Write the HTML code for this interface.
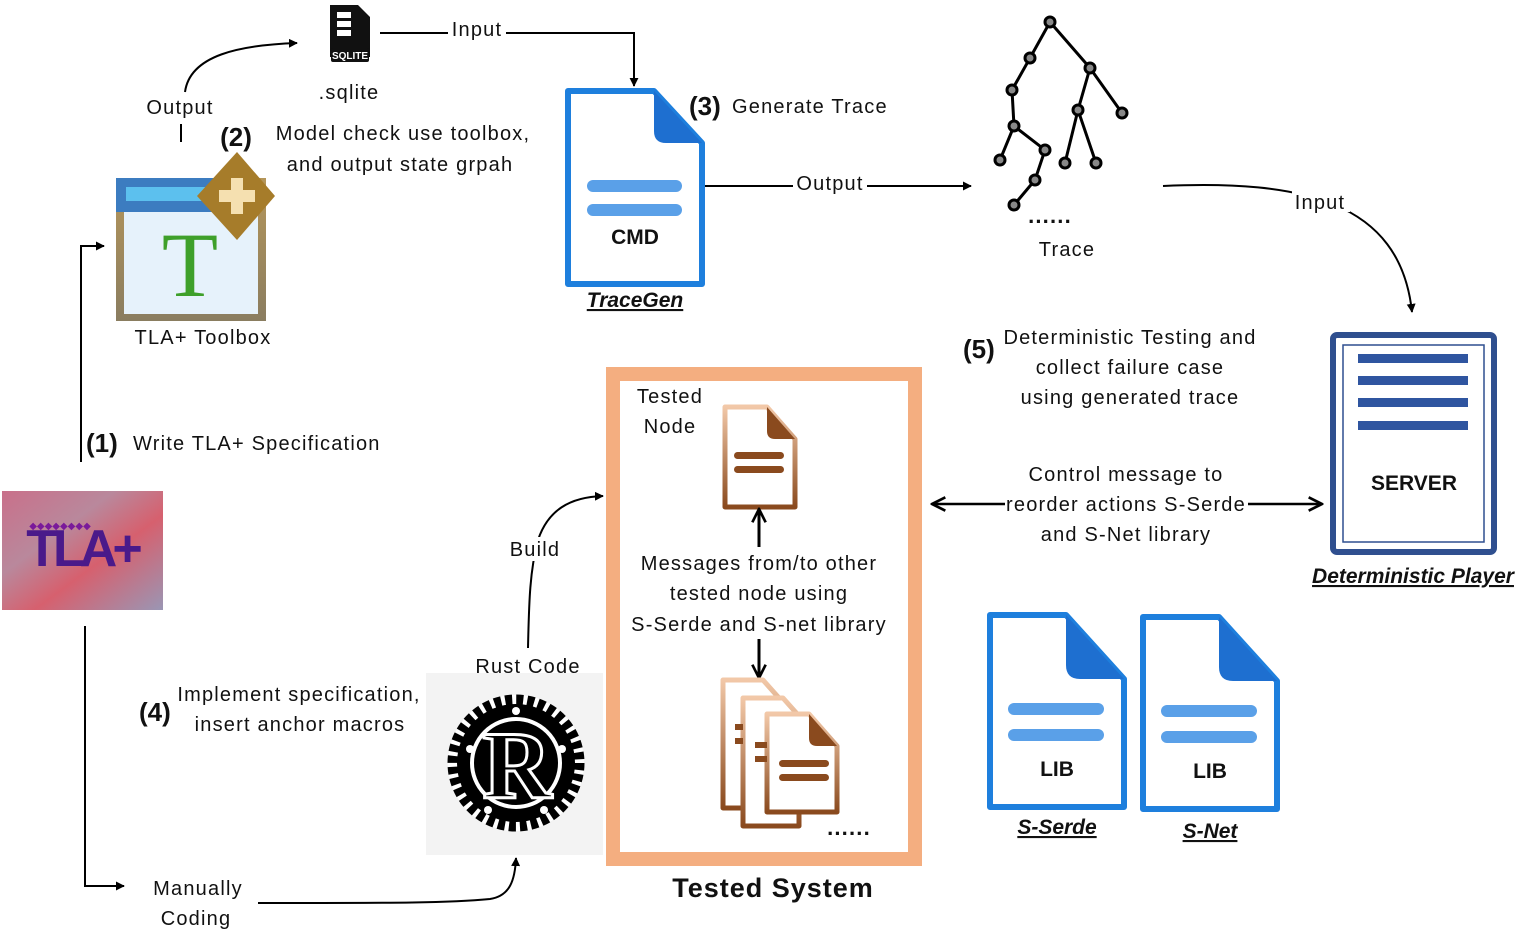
<!DOCTYPE html>
<html><head><meta charset="utf-8"><style>
html,body{margin:0;padding:0;background:#fff}
svg text{font-family:"Liberation Sans",sans-serif;fill:#111;letter-spacing:1.2px}
svg text.b{letter-spacing:0}
</style></head><body>
<svg width="1533" height="947" viewBox="0 0 1533 947" xmlns="http://www.w3.org/2000/svg">
<defs>
<marker id="a" viewBox="0 0 10 10" refX="9" refY="5" markerWidth="9" markerHeight="9" markerUnits="userSpaceOnUse" orient="auto"><path d="M0,0L10,5L0,10z" fill="#000"/></marker>
<marker id="o" viewBox="0 0 12 12" refX="11" refY="6" markerWidth="16" markerHeight="16" markerUnits="userSpaceOnUse" orient="auto"><path d="M1,1L11,6L1,11" fill="none" stroke="#000" stroke-width="2"/></marker>
<linearGradient id="tla" x1="0" y1="0" x2="1" y2="1"><stop offset="0" stop-color="#c9708a"/><stop offset=".35" stop-color="#b9889c"/><stop offset=".6" stop-color="#d6606e"/><stop offset="1" stop-color="#9a96b4"/></linearGradient>
<linearGradient id="brn" x1="0" y1="0" x2="0" y2="1"><stop offset="0" stop-color="#f2c8a8"/><stop offset="1" stop-color="#8a4a1e"/></linearGradient>
<linearGradient id="tbx" x1="0" y1="0" x2="0" y2="1"><stop offset="0" stop-color="#b5965a"/><stop offset="1" stop-color="#8a7d60"/></linearGradient>
</defs>

<!-- sqlite icon -->
<path d="M330,5h28l12,12v40h-40z" fill="#111"/>
<rect x="337" y="12" width="14" height="6" fill="#fff"/><rect x="337" y="21" width="14" height="6" fill="#fff"/><rect x="337" y="30" width="14" height="6" fill="#fff"/>
<rect x="331" y="48" width="38" height="14" rx="2" fill="#111"/>
<text class="b" x="350" y="59" font-size="10" font-weight="bold" text-anchor="middle" style="fill:#fff">SQLITE</text>
<text x="349" y="99" font-size="20" text-anchor="middle">.sqlite</text>

<!-- TLA toolbox icon -->
<rect x="116" y="178" width="150" height="143" fill="url(#tbx)"/>
<rect x="124" y="212" width="134" height="102" fill="#e6f2fb"/>
<rect x="116" y="178" width="130" height="34" fill="#3c7cc0"/>
<rect x="126" y="187" width="100" height="14" fill="#5cc0ee"/>
<text class="b" x="190" y="296" font-size="92" text-anchor="middle" style="fill:#3ea02a;font-family:'Liberation Serif',serif">T</text>
<path d="M237,152l38,44l-38,44l-40,-44z" fill="#a67c2a"/>
<path d="M231,178h12v12h12v12h-12v12h-12v-12h-12v-12h12z" fill="#f5e0b0"/>
<text class="b" x="236" y="146" font-size="26" font-weight="bold" text-anchor="middle">(2)</text>
<text x="203" y="344" font-size="20" text-anchor="middle">TLA+ Toolbox</text>
<text x="403" y="140" font-size="20" text-anchor="middle">Model check use toolbox,</text>
<text x="400" y="171" font-size="20" text-anchor="middle">and output state grpah</text>

<text x="180" y="114" font-size="20" text-anchor="middle">Output</text>
<line x1="181" y1="124" x2="181" y2="142" stroke="#000" stroke-width="2"/>
<path d="M185,92C190,55 240,45 297,43" fill="none" stroke="#000" stroke-width="2" marker-end="url(#a)"/>
<path d="M380,33H634V86" fill="none" stroke="#000" stroke-width="2" marker-end="url(#a)"/>
<rect x="448" y="20" width="58" height="22" fill="#fff"/>
<text x="477" y="36" font-size="20" text-anchor="middle">Input</text>

<!-- CMD doc -->
<path d="M568,91h86l48,52v141h-134z" fill="#fff" stroke="#1e7fdd" stroke-width="6" stroke-linejoin="round"/>
<path d="M654,91v40q0,12 12,12h36z" fill="#1e6fd0"/>
<rect x="587" y="180" width="95" height="12" rx="6" fill="#5aa0e8"/>
<rect x="587" y="204" width="95" height="12" rx="6" fill="#5aa0e8"/>
<text class="b" x="635" y="244" font-size="21" font-weight="bold" text-anchor="middle">CMD</text>
<text class="b" x="635" y="307" font-size="21" font-weight="bold" font-style="italic" text-anchor="middle" text-decoration="underline">TraceGen</text>
<text class="b" x="689" y="115" font-size="26" font-weight="bold">(3)</text>
<text x="732" y="113" font-size="20">Generate Trace</text>

<line x1="705" y1="186" x2="971" y2="186" stroke="#000" stroke-width="2" marker-end="url(#a)"/>
<rect x="793" y="172" width="74" height="22" fill="#fff"/>
<text x="830" y="190" font-size="20" text-anchor="middle">Output</text>

<!-- tree -->
<g stroke="#000" stroke-width="3" fill="none">
<path d="M1050,22L1030,58L1012,90L1014,126L1000,160M1014,126L1045,150L1035,180L1014,205M1050,22L1090,68L1078,110L1065,163M1078,110L1096,163M1090,68L1122,113"/>
</g>
<g fill="#888" stroke="#000" stroke-width="3">
<circle cx="1050" cy="22" r="5"/><circle cx="1030" cy="58" r="5"/><circle cx="1012" cy="90" r="5"/><circle cx="1014" cy="126" r="5"/><circle cx="1000" cy="160" r="5"/><circle cx="1045" cy="150" r="5"/><circle cx="1035" cy="180" r="5"/><circle cx="1014" cy="205" r="5"/><circle cx="1090" cy="68" r="5"/><circle cx="1078" cy="110" r="5"/><circle cx="1065" cy="163" r="5"/><circle cx="1096" cy="163" r="5"/><circle cx="1122" cy="113" r="5"/>
</g>
<text x="1050" y="223" font-size="22" font-weight="bold" text-anchor="middle">......</text>
<text x="1067" y="256" font-size="20" text-anchor="middle">Trace</text>

<path d="M1163,186C1300,180 1400,200 1412,312" fill="none" stroke="#000" stroke-width="2" marker-end="url(#a)"/>
<rect x="1292" y="190" width="58" height="22" fill="#fff"/>
<text x="1320" y="209" font-size="20" text-anchor="middle">Input</text>

<!-- server -->
<rect x="1333" y="335" width="161" height="217" rx="4" fill="#fff" stroke="#2f4f8f" stroke-width="6"/>
<rect x="1343" y="345" width="141" height="197" fill="none" stroke="#2f4f8f" stroke-width="1.5"/>
<g fill="#2f55a0"><rect x="1358" y="354" width="110" height="9"/><rect x="1358" y="376" width="110" height="9"/><rect x="1358" y="398" width="110" height="9"/><rect x="1358" y="421" width="110" height="9"/></g>
<text class="b" x="1414" y="490" font-size="21" font-weight="bold" text-anchor="middle">SERVER</text>
<text class="b" x="1413" y="583" font-size="21" font-weight="bold" font-style="italic" text-anchor="middle" text-decoration="underline">Deterministic Player</text>

<text class="b" x="963" y="358" font-size="26" font-weight="bold">(5)</text>
<text x="1130" y="344" font-size="20" text-anchor="middle">Deterministic Testing and</text>
<text x="1130" y="374" font-size="20" text-anchor="middle">collect failure case</text>
<text x="1130" y="404" font-size="20" text-anchor="middle">using generated trace</text>

<line x1="1005" y1="504" x2="932" y2="504" stroke="#000" stroke-width="2.5" marker-end="url(#o)"/>
<line x1="1248" y1="504" x2="1322" y2="504" stroke="#000" stroke-width="2.5" marker-end="url(#o)"/>
<text x="1126" y="481" font-size="20" text-anchor="middle">Control message to</text>
<text x="1126" y="511" font-size="20" text-anchor="middle">reorder actions S-Serde</text>
<text x="1126" y="541" font-size="20" text-anchor="middle">and S-Net library</text>

<!-- LIB docs -->
<path d="M990,615h76l58,64v128h-134z" fill="#fff" stroke="#1e7fdd" stroke-width="6" stroke-linejoin="round"/>
<path d="M1066,615v50q0,14 14,14h44z" fill="#1e6fd0"/>
<rect x="1008" y="703" width="96" height="12" rx="6" fill="#5aa0e8"/><rect x="1008" y="729" width="96" height="12" rx="6" fill="#5aa0e8"/>
<text class="b" x="1057" y="776" font-size="21" font-weight="bold" text-anchor="middle">LIB</text>
<text class="b" x="1057" y="834" font-size="21" font-weight="bold" font-style="italic" text-anchor="middle" text-decoration="underline">S-Serde</text>
<path d="M1143,617h76l58,64v128h-134z" fill="#fff" stroke="#1e7fdd" stroke-width="6" stroke-linejoin="round"/>
<path d="M1219,617v50q0,14 14,14h44z" fill="#1e6fd0"/>
<rect x="1161" y="705" width="96" height="12" rx="6" fill="#5aa0e8"/><rect x="1161" y="731" width="96" height="12" rx="6" fill="#5aa0e8"/>
<text class="b" x="1210" y="778" font-size="21" font-weight="bold" text-anchor="middle">LIB</text>
<text class="b" x="1210" y="838" font-size="21" font-weight="bold" font-style="italic" text-anchor="middle" text-decoration="underline">S-Net</text>

<!-- Tested system frame -->
<rect x="613" y="374" width="302" height="485" fill="#fff" stroke="#f4ae80" stroke-width="14"/>
<text x="670" y="403" font-size="20" text-anchor="middle">Tested</text>
<text x="670" y="433" font-size="20" text-anchor="middle">Node</text>
<path d="M725,407h42l28,32v68h-70z" fill="#fff" stroke="url(#brn)" stroke-width="5" stroke-linejoin="round"/>
<path d="M767,407v24q0,8 8,8h20z" fill="#8a4a1e"/>
<rect x="734" y="452" width="50" height="7" rx="3.5" fill="#8a4a1e"/><rect x="734" y="466" width="50" height="7" rx="3.5" fill="#8a4a1e"/>
<line x1="759" y1="547" x2="759" y2="509" stroke="#000" stroke-width="3" marker-end="url(#o)"/>
<text x="759" y="570" font-size="20" text-anchor="middle">Messages from/to other</text>
<text x="759" y="600" font-size="20" text-anchor="middle">tested node using</text>
<text x="759" y="631" font-size="20" text-anchor="middle">S-Serde and S-net library</text>
<line x1="759" y1="639" x2="759" y2="678" stroke="#000" stroke-width="3" marker-end="url(#o)"/>
<g stroke="url(#brn)" stroke-width="5" stroke-linejoin="round" fill="#fff">
<path d="M723,680h40l16,18v110h-56z"/>
<path d="M743,698h40l16,18v110h-56z"/>
<path d="M767,714h42l28,32v66h-70z"/>
</g>
<path d="M809,714v24q0,8 8,8h20z" fill="#8a4a1e"/>
<rect x="735" y="724" width="8" height="6" fill="#8a4a1e"/><rect x="735" y="738" width="8" height="6" fill="#8a4a1e"/>
<rect x="755" y="742" width="12" height="6" fill="#8a4a1e"/><rect x="755" y="756" width="12" height="6" fill="#8a4a1e"/>
<rect x="779" y="760" width="50" height="7" rx="3.5" fill="#8a4a1e"/><rect x="779" y="774" width="50" height="7" rx="3.5" fill="#8a4a1e"/>
<text x="849" y="835" font-size="22" font-weight="bold" text-anchor="middle">......</text>
<text class="b" x="773" y="897" font-size="27" font-weight="bold" text-anchor="middle" style="letter-spacing:1px">Tested System</text>

<!-- TLA+ logo -->
<rect x="2" y="491" width="161" height="119" fill="url(#tla)"/>
<text class="b" x="82" y="566" font-size="52" font-weight="bold" text-anchor="middle" style="fill:#4a1a8a;letter-spacing:-5px">TLA+</text>
<text class="b" x="60" y="529" font-size="10" text-anchor="middle" style="fill:#7a1a9a">◆◆◆◆◆◆◆◆</text>

<!-- (1) -->
<path d="M81,462V246H104" fill="none" stroke="#000" stroke-width="2" marker-end="url(#a)"/>
<text class="b" x="86" y="452" font-size="26" font-weight="bold">(1)</text>
<text x="133" y="450" font-size="20">Write TLA+ Specification</text>

<path d="M85,626V886H124" fill="none" stroke="#000" stroke-width="2" marker-end="url(#a)"/>
<text x="198" y="895" font-size="20" text-anchor="middle">Manually</text>
<text x="196" y="925" font-size="20" text-anchor="middle">Coding</text>
<path d="M258,903C400,903 450,903 490,899C510,896 515,880 516,858" fill="none" stroke="#000" stroke-width="2" marker-end="url(#a)"/>

<!-- (4) -->
<text class="b" x="139" y="721" font-size="26" font-weight="bold">(4)</text>
<text x="299" y="701" font-size="20" text-anchor="middle">Implement specification,</text>
<text x="300" y="731" font-size="20" text-anchor="middle">insert anchor macros</text>

<!-- Rust logo -->
<rect x="426" y="673" width="177" height="182" fill="#f3f3f3"/>
<text x="528" y="673" font-size="20" text-anchor="middle">Rust Code</text>
<circle cx="516" cy="763" r="68" fill="#fff"/>
<circle cx="516" cy="763" r="63" fill="none" stroke="#000" stroke-width="11" stroke-dasharray="7 4"/>
<circle cx="516" cy="763" r="59" fill="#000"/>
<circle cx="516" cy="763" r="44" fill="none" stroke="#fff" stroke-width="4"/>
<text class="b" x="517" y="798" font-size="96" font-weight="bold" text-anchor="middle" style="fill:#000;font-family:'Liberation Serif',serif" stroke="#fff" stroke-width="3">R</text>
<g fill="#fff"><circle cx="516" cy="711" r="4"/><circle cx="470" cy="749" r="4"/><circle cx="562" cy="749" r="4"/><circle cx="488" cy="810" r="4"/><circle cx="544" cy="810" r="4"/></g>

<!-- Build -->
<path d="M528,648C529,600 530,570 538,540C548,510 570,497 603,496" fill="none" stroke="#000" stroke-width="2" marker-end="url(#a)"/>
<rect x="505" y="537" width="60" height="24" fill="#fff"/>
<text x="535" y="556" font-size="20" text-anchor="middle">Build</text>
</svg>
</body></html>
